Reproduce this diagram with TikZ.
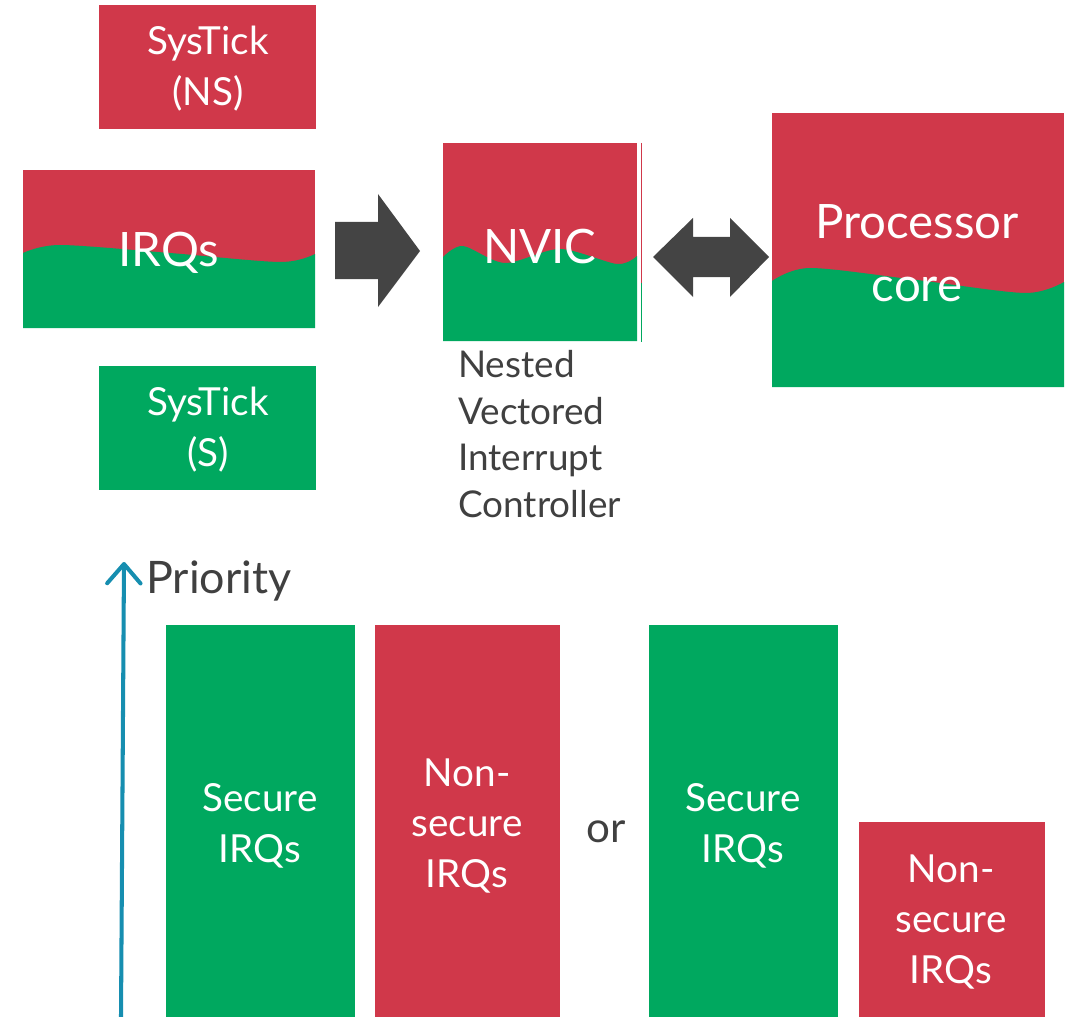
\documentclass[tikz,border=0pt]{standalone}
\usepackage{fontspec}
\setmainfont{Lato}
\usepackage{tikz}
\usetikzlibrary{arrows.meta}
\definecolor{secred}{RGB}{208,56,74}
\definecolor{secgreen}{RGB}{0,168,95}
\definecolor{textgray}{RGB}{64,64,64}
\definecolor{arrowgray}{RGB}{68,68,68}
\definecolor{prioblue}{RGB}{22,142,176}

\newcommand{\wavebox}[5]{
    % Red box for the non-secure side
    \fill[secred] (#1,#2) rectangle (#3,#4);

    % Green part below the wave for the secure side
    \fill[secgreen] (#1,#4) -- plot[smooth] coordinates {#5} -- (#3,#4) -- cycle;
}

\tikzset{
    bigtext/.style={text=white, font=\fontsize{27}{36}\selectfont, align=center, inner sep=0pt},
    boxtext/.style={text=white, font=\fontsize{22}{29}\selectfont, align=center, inner sep=0pt},
    graytext/.style={text=textgray, inner sep=0pt},
    blockarrow/.style={fill=arrowgray},
    prioarrow/.style={prioblue, line width=2.3pt, -{Straight Barb[length=11pt,width=19pt,round]}}
}

\begin{document}
\begin{tikzpicture}[x=0.02cm, y=-0.02cm]
    \useasboundingbox (0,0) rectangle (1066,1017);

    % SysTick boxes on the left
    \fill[secred] (99,5) rectangle (316,129);
    \node[boxtext] (systickns) at (208,69) {SysTick\\(NS)};
    \fill[secgreen] (99,366) rectangle (316,490);
    \node[boxtext] (systicks) at (208,430) {SysTick\\(S)};

    % IRQs with the wave between both halves
    \wavebox{23}{170}{315}{328}{(23,253) (60,245) (170,253) (280,262) (315,254)}
    \node[bigtext] (irqs) at (169,253) {IRQs};

    % Arrow into the NVIC
    \fill[blockarrow] (335,222) -- (378,222) -- (378,194) -- (420,251)
        -- (378,307) -- (378,279) -- (335,279) -- cycle;

    % NVIC box
    \wavebox{443}{143}{637}{341}{(443,257) (463,246) (505,263) (560,249) (617,264) (637,256)}
    \draw[secred, line width=0.5pt] (641,143) -- (641,283);
    \draw[secgreen, line width=0.5pt] (641,283) -- (641,342);
    \node[bigtext] (nvic) at (540,247) {NVIC};
    \node[graytext, anchor=north west, align=left, font=\fontsize{21}{26.6}\selectfont]
        (nvicname) at (458,350) {Nested\\Vectored\\Interrupt\\Controller};

    % Double arrow between NVIC and core
    \fill[blockarrow] (653,257) -- (693,218) -- (693,237) -- (730,237) -- (730,218)
        -- (769,257) -- (730,297) -- (730,277) -- (693,277) -- (693,297) -- cycle;

    % Processor core
    \wavebox{772}{113}{1064}{387}{(772,281) (810,268) (917,280) (1025,293) (1064,282)}
    \node[bigtext] (core) at (917,253) {Processor\\core};

    % Priority axis
    \coordinate (priolow) at (121,1017);
    \coordinate (priohigh) at (124,562);
    \draw[prioarrow] (priolow) -- (priohigh);
    \node[graytext, anchor=base west, font=\fontsize{25.5}{30}\selectfont]
        (priority) at (146,593) {Priority};

    % Priority orders of secure and non-secure IRQs
    \fill[secgreen] (166,625) rectangle (355,1017);
    \node[boxtext] (secfirst) at (260,826) {Secure\\IRQs};
    \fill[secred] (375,625) rectangle (560,1017);
    \node[boxtext] (nonsecfirst) at (467,826) {Non-\\secure\\IRQs};
    \node[graytext, font=\fontsize{24}{29}\selectfont] (or) at (606,832) {or};
    \fill[secgreen] (649,625) rectangle (838,1017);
    \node[boxtext] (secsecond) at (743,826) {Secure\\IRQs};
    \fill[secred] (859,822) rectangle (1045,1017);
    \node[boxtext] (nonsecsecond) at (951,922) {Non-\\secure\\IRQs};
\end{tikzpicture}
\end{document}
